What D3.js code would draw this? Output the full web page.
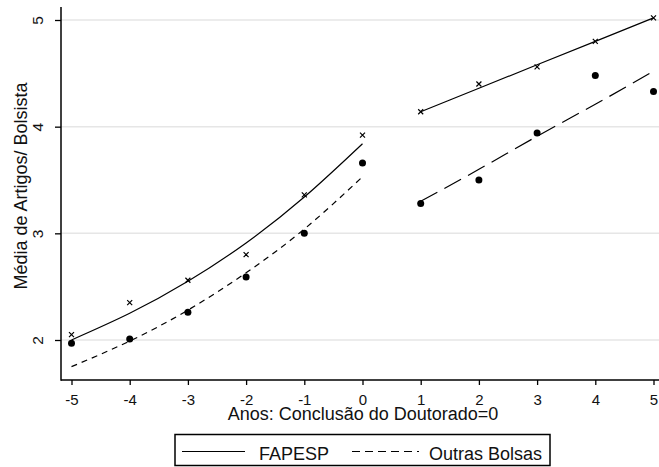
<!DOCTYPE html>
<html>
<head>
<meta charset="utf-8">
<script src="https://cdn.jsdelivr.net/npm/d3@7"></script>
<style>
  body { margin: 0; background: #fff; }
  svg text { font-family: "Liberation Sans", Arial, sans-serif; fill: #111; }
</style>
</head>
<body>
<script>

// years relative to PhD conclusion
var years = [-5, -4, -3, -2, -1, 0, 1, 2, 3, 4, 5];
var yTicks = [2, 3, 4, 5];

// observed means (markers)
var fapesp = [2.05, 2.35, 2.56, 2.80, 3.36, 3.92, 4.14, 4.40, 4.56, 4.80, 5.02];
var outras = [1.97, 2.01, 2.26, 2.59, 3.00, 3.66, 3.28, 3.50, 3.94, 4.48, 4.33];

// fitted lines (before / after conclusion)
var preYears = [-5, -4, -3, -2, -1, 0];
var postYears = [1, 2, 3, 4, 5];
var fapespPre = [2.00, 2.25, 2.55, 2.91, 3.34, 3.84];
var fapespPost = [4.14, 4.36, 4.58, 4.80, 5.02];
var outrasPre = [1.75, 1.99, 2.28, 2.63, 3.04, 3.53];
var outrasPost = [3.30, 3.60, 3.91, 4.21, 4.52];

var legendLabels = ["FAPESP", "Outras Bolsas"];

var width = 659, height = 467;
var axisX = 61, axisY = 380, topY = 7;

var svg = d3.select("body").append("svg")
  .attr("width", width)
  .attr("height", height);

var x = d3.scaleLinear().domain([-5, 5]).range([71.5, 653.5]);
var y = d3.scaleLinear().domain([2, 5]).range([340, 20]);

// plain hyphen for negatives, like the original
var fmt = function(d) { return String(d); };

// gridlines
svg.append("g")
  .selectAll("line")
  .data(yTicks)
  .enter().append("line")
  .attr("x1", axisX).attr("x2", width)
  .attr("y1", function(d) { return y(d); })
  .attr("y2", function(d) { return y(d); })
  .style("stroke", "#e6e6e6")
  .style("stroke-width", 1.5);

// y axis
var yAxis = svg.append("g")
  .attr("transform", "translate(" + axisX + ",0)")
  .call(d3.axisLeft(y).tickValues(yTicks).tickSize(6).tickFormat(fmt));
yAxis.select(".domain").remove();
yAxis.selectAll(".tick line").style("stroke", "#000").style("stroke-width", 1.3);
yAxis.selectAll(".tick text")
  .attr("x", null).attr("dy", null)
  .attr("text-anchor", "middle")
  .attr("transform", "translate(-18,0) rotate(-90)")
  .style("font-size", "15.5px");

// x axis
var xAxis = svg.append("g")
  .attr("transform", "translate(0," + axisY + ")")
  .call(d3.axisBottom(x).tickValues(years).tickSize(5).tickFormat(fmt));
xAxis.select(".domain").remove();
xAxis.selectAll(".tick line").style("stroke", "#000").style("stroke-width", 1.3);
xAxis.selectAll(".tick text")
  .attr("y", 25).attr("dy", null)
  .style("font-size", "15px");

// axis lines
svg.append("line")
  .attr("x1", axisX).attr("x2", axisX).attr("y1", topY).attr("y2", axisY + 0.75)
  .style("stroke", "#000").style("stroke-width", 1.5);
svg.append("line")
  .attr("x1", axisX).attr("x2", width).attr("y1", axisY).attr("y2", axisY)
  .style("stroke", "#000").style("stroke-width", 1.5);

// axis titles
svg.append("text")
  .attr("x", 363).attr("y", 420)
  .attr("text-anchor", "middle")
  .style("font-size", "18px")
  .text("Anos: Conclusão do Doutorado=0");

svg.append("text")
  .attr("transform", "translate(27,186) rotate(-90)")
  .attr("text-anchor", "middle")
  .style("font-size", "18px")
  .text("Média de Artigos/ Bolsista");

// fitted lines
var line = d3.line()
  .x(function(d) { return x(d[0]); })
  .y(function(d) { return y(d[1]); })
  .curve(d3.curveNatural);

function fit(xs, ys, dash) {
  svg.append("path")
    .datum(d3.zip(xs, ys))
    .attr("d", line)
    .style("fill", "none")
    .style("stroke", "#000")
    .style("stroke-width", 1.2)
    .style("stroke-dasharray", dash);
}

fit(preYears, fapespPre, null);
fit(postYears, fapespPost, null);
fit(preYears, outrasPre, "6,5");
fit(postYears, outrasPost, "19,8");

// markers
svg.append("g")
  .selectAll("path")
  .data(d3.zip(years, fapesp))
  .enter().append("path")
  .attr("transform", function(d) { return "translate(" + x(d[0]) + "," + y(d[1]) + ")"; })
  .attr("d", "M-2.5,-2.5L2.5,2.5M-2.5,2.5L2.5,-2.5")
  .style("stroke", "#000")
  .style("stroke-width", 1.2)
  .style("fill", "none");

svg.append("g")
  .selectAll("circle")
  .data(d3.zip(years, outras))
  .enter().append("circle")
  .attr("cx", function(d) { return x(d[0]); })
  .attr("cy", function(d) { return y(d[1]); })
  .attr("r", 3.5)
  .style("fill", "#000");

// legend
var legend = svg.append("g");
legend.append("rect")
  .attr("x", 175).attr("y", 434.5)
  .attr("width", 375).attr("height", 31)
  .style("fill", "#fff")
  .style("stroke", "#000")
  .style("stroke-width", 1.5);

legend.append("line")
  .attr("x1", 182).attr("x2", 245).attr("y1", 451.5).attr("y2", 451.5)
  .style("stroke", "#000").style("stroke-width", 1.2);
legend.append("text")
  .attr("x", 259).attr("y", 460)
  .style("font-size", "18px")
  .text(legendLabels[0]);

legend.append("line")
  .attr("x1", 352).attr("x2", 419).attr("y1", 451.5).attr("y2", 451.5)
  .style("stroke", "#000").style("stroke-width", 1.2)
  .style("stroke-dasharray", "8,5");
legend.append("text")
  .attr("x", 429).attr("y", 460)
  .style("font-size", "18px")
  .text(legendLabels[1]);

</script>
</body>
</html>
